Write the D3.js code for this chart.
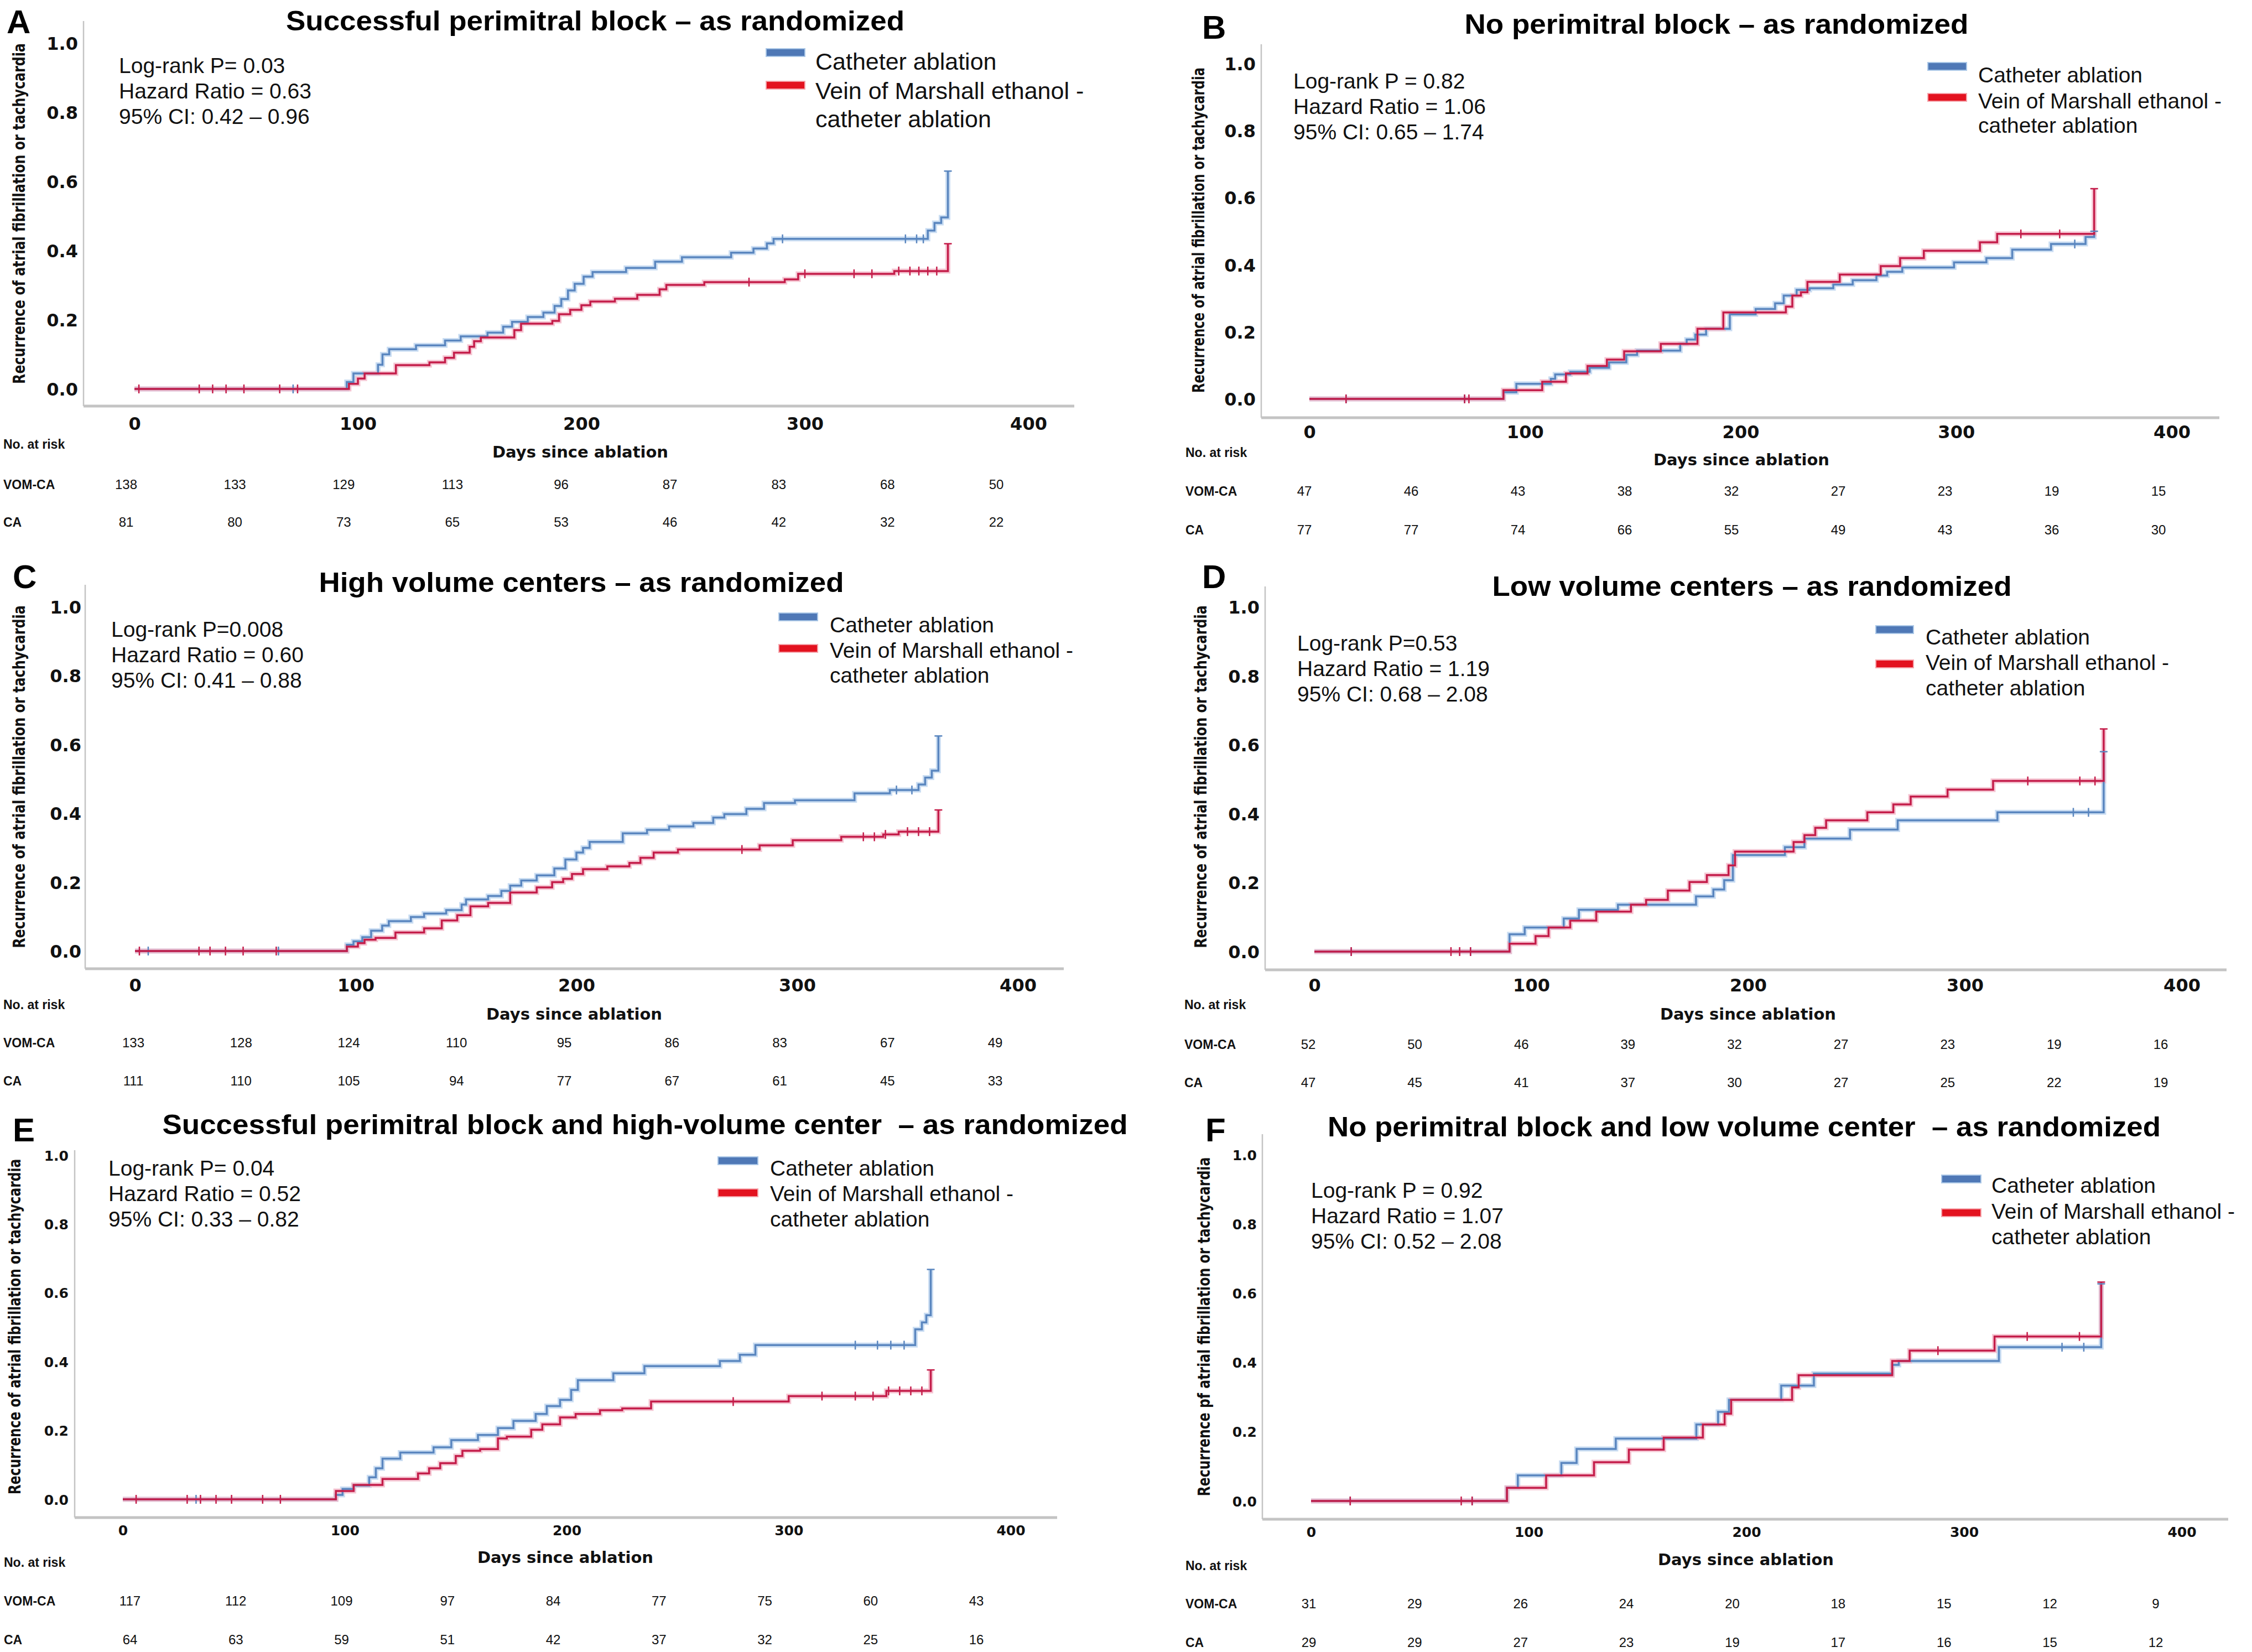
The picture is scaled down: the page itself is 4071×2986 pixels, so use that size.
<!DOCTYPE html>
<html><head><meta charset="utf-8">
<script src="https://cdn.jsdelivr.net/npm/d3@7"></script>
<style>body{margin:0;background:#fff}svg{display:block}</style>
</head><body>
<svg id="chart" width="4071" height="2986"></svg>
<script>
// ---------------- DATA ----------------
const xTickValues = [0, 100, 200, 300, 400];
const yTickValues = [0, 0.2, 0.4, 0.6, 0.8, 1.0];
const legendLabels = ["Catheter ablation", "Vein of Marshall ethanol -", "catheter ablation"];
const riskRowLabels = ["VOM-CA", "CA"];
const panelLetters = ["A", "B", "C", "D", "E", "F"];
const panelTitles = [
  "Successful perimitral block \u2013 as randomized",
  "No perimitral block \u2013 as randomized",
  "High volume centers \u2013 as randomized",
  "Low volume centers \u2013 as randomized",
  "Successful perimitral block and high-volume center  \u2013 as randomized",
  "No perimitral block and low volume center  \u2013 as randomized"
];
const yAxisLabels = [
  "Recurrence of atrial fibrillation or tachycardia",
  "Recurrence of atrial fibrillation or tachycardia",
  "Recurrence of atrial fibrillation or tachycardia",
  "Recurrence of atrial fibrillation or tachycardia",
  "Recurrence of atrial fibrillation or tachycardia",
  "Recurrence pf atrial fibrillation or tachycardia"
];
const xAxisTitle = "Days since ablation";
const riskTitle = "No. at risk";

const statsA = ["Log-rank P= 0.03", "Hazard Ratio = 0.63", "95% CI: 0.42 \u2013 0.96"];
const statsB = ["Log-rank P = 0.82", "Hazard Ratio = 1.06", "95% CI: 0.65 \u2013 1.74"];
const statsC = ["Log-rank P=0.008", "Hazard Ratio = 0.60", "95% CI: 0.41 \u2013 0.88"];
const statsD = ["Log-rank P=0.53", "Hazard Ratio = 1.19", "95% CI: 0.68 \u2013 2.08"];
const statsE = ["Log-rank P= 0.04", "Hazard Ratio = 0.52", "95% CI: 0.33 \u2013 0.82"];
const statsF = ["Log-rank P = 0.92", "Hazard Ratio = 1.07", "95% CI: 0.52 \u2013 2.08"];

// number at risk
const riskA_VOM = [138, 133, 129, 113, 96, 87, 83, 68, 50];
const riskA_CA  = [81, 80, 73, 65, 53, 46, 42, 32, 22];
const riskB_VOM = [47, 46, 43, 38, 32, 27, 23, 19, 15];
const riskB_CA  = [77, 77, 74, 66, 55, 49, 43, 36, 30];
const riskC_VOM = [133, 128, 124, 110, 95, 86, 83, 67, 49];
const riskC_CA  = [111, 110, 105, 94, 77, 67, 61, 45, 33];
const riskD_VOM = [52, 50, 46, 39, 32, 27, 23, 19, 16];
const riskD_CA  = [47, 45, 41, 37, 30, 27, 25, 22, 19];
const riskE_VOM = [117, 112, 109, 97, 84, 77, 75, 60, 43];
const riskE_CA  = [64, 63, 59, 51, 42, 37, 32, 25, 16];
const riskF_VOM = [31, 29, 26, 24, 20, 18, 15, 12, 9];
const riskF_CA  = [29, 29, 27, 23, 19, 17, 16, 15, 12];

// cumulative incidence step curves: [day, value from that day on]
const curveA_CA = [[0,0],[95,0.02],[98,0.045],[109,0.07],[111,0.1],[114,0.115],[126,0.126],[139,0.14],[146,0.152],[158,0.163],[165,0.18],[169,0.194],[176,0.208],[183,0.221],[188,0.24],[191,0.26],[194,0.285],[197,0.304],[201,0.325],[205,0.338],[220,0.35],[233,0.368],[245,0.381],[267,0.394],[277,0.406],[283,0.421],[286,0.434],[355,0.458],[358,0.48],[361,0.496],[364,0.63]];
const curveA_VOM = [[0,0],[96,0.015],[100,0.03],[103,0.045],[117,0.069],[132,0.077],[139,0.09],[143,0.105],[150,0.122],[152,0.138],[155,0.149],[170,0.17],[173,0.189],[187,0.197],[190,0.216],[195,0.229],[200,0.242],[204,0.253],[215,0.261],[225,0.272],[235,0.288],[238,0.301],[255,0.309],[291,0.317],[297,0.333],[340,0.341],[364,0.42]];
const curveB_CA = [[0,0],[90,0.02],[96,0.045],[112,0.06],[114,0.073],[121,0.081],[130,0.093],[139,0.109],[147,0.131],[152,0.144],[172,0.164],[175,0.177],[179,0.192],[184,0.209],[195,0.252],[207,0.268],[216,0.285],[220,0.308],[226,0.325],[232,0.33],[243,0.341],[252,0.354],[263,0.368],[268,0.379],[275,0.392],[299,0.407],[314,0.42],[326,0.445],[344,0.462],[360,0.483],[364,0.5]];
const curveB_VOM = [[0,0],[90,0.026],[108,0.051],[119,0.076],[129,0.098],[138,0.117],[146,0.142],[163,0.164],[180,0.209],[192,0.258],[221,0.275],[224,0.308],[228,0.318],[231,0.349],[246,0.371],[265,0.396],[274,0.42],[285,0.442],[311,0.467],[319,0.492],[364,0.627]];
const curveC_CA = [[0,0],[96,0.018],[99,0.028],[103,0.04],[107,0.059],[112,0.074],[115,0.087],[125,0.099],[131,0.109],[141,0.119],[148,0.135],[150,0.15],[160,0.16],[166,0.175],[170,0.19],[175,0.205],[182,0.22],[190,0.24],[195,0.266],[200,0.286],[203,0.3],[206,0.317],[221,0.342],[232,0.352],[242,0.362],[253,0.372],[262,0.388],[267,0.398],[277,0.413],[285,0.43],[299,0.438],[326,0.458],[342,0.468],[355,0.484],[358,0.504],[361,0.524],[364,0.625]];
const curveC_VOM = [[0,0],[96,0.013],[101,0.023],[104,0.033],[109,0.038],[118,0.054],[131,0.066],[139,0.089],[146,0.104],[152,0.13],[160,0.14],[170,0.17],[182,0.185],[189,0.2],[194,0.21],[198,0.224],[203,0.238],[214,0.246],[224,0.256],[229,0.271],[235,0.286],[246,0.295],[283,0.307],[298,0.322],[320,0.332],[339,0.339],[346,0.347],[364,0.41]];
const curveD_CA = [[0,0],[90,0.05],[97,0.07],[115,0.096],[122,0.121],[140,0.136],[176,0.16],[184,0.18],[189,0.207],[193,0.28],[217,0.303],[226,0.328],[247,0.354],[269,0.381],[315,0.404],[364,0.58]];
const curveD_VOM = [[0,0],[90,0.023],[102,0.045],[108,0.07],[118,0.09],[130,0.116],[146,0.136],[153,0.15],[163,0.177],[173,0.202],[181,0.222],[191,0.25],[194,0.29],[221,0.318],[226,0.338],[231,0.359],[236,0.381],[255,0.404],[267,0.427],[275,0.45],[292,0.47],[313,0.495],[364,0.646]];
const curveE_CA = [[0,0],[96,0.013],[99,0.03],[104,0.04],[111,0.064],[114,0.09],[117,0.118],[125,0.136],[140,0.151],[148,0.172],[160,0.187],[169,0.207],[176,0.228],[186,0.248],[191,0.271],[197,0.289],[202,0.318],[205,0.346],[221,0.366],[235,0.387],[269,0.402],[278,0.42],[285,0.448],[357,0.494],[360,0.514],[362,0.535],[364,0.668]];
const curveE_VOM = [[0,0],[96,0.024],[104,0.042],[117,0.059],[133,0.075],[138,0.09],[143,0.105],[150,0.126],[153,0.141],[161,0.146],[169,0.177],[173,0.182],[184,0.202],[189,0.218],[197,0.238],[204,0.248],[215,0.259],[225,0.264],[238,0.284],[300,0.3],[344,0.315],[364,0.376]];
const curveF_CA = [[0,0],[90,0.038],[95,0.074],[115,0.11],[122,0.15],[140,0.18],[177,0.221],[187,0.257],[192,0.292],[216,0.333],[231,0.368],[267,0.393],[270,0.404],[316,0.444],[363,0.627]];
const curveF_VOM = [[0,0],[90,0.038],[108,0.074],[130,0.112],[146,0.148],[162,0.183],[180,0.221],[190,0.252],[193,0.292],[221,0.328],[224,0.363],[267,0.404],[275,0.434],[314,0.475],[363,0.632]];

// censored observation days
const censorA_CA = [71, 290, 345, 350, 353];
const censorA_VOM = [2, 29, 35, 41, 49, 65, 73, 275, 300, 322, 330, 342, 347, 351, 355, 359];
const censorB_CA = [17, 72, 355];
const censorB_VOM = [17, 72, 74, 330, 348];
const censorC_CA = [6, 65, 345, 352];
const censorC_VOM = [2, 29, 34, 41, 49, 64, 275, 330, 335, 340, 350, 355, 360];
const censorD_CA = [17, 72, 350, 357];
const censorD_VOM = [17, 63, 67, 72, 329, 353, 360];
const censorE_CA = [33, 330, 340, 346, 352];
const censorE_VOM = [6, 29, 35, 42, 49, 63, 71, 275, 315, 330, 338, 345, 350, 355, 360];
const censorF_CA = [18, 74, 345, 355];
const censorF_VOM = [18, 69, 74, 288, 329, 353];

// ---------------- LAYOUT (positions / sizes only) ----------------
const layouts = [
 {letter:[12,60], title:[1076,55,1118], xr:[243,1859], yr:[703,78], yAxisX:151, yAxisTop:38, xAxisY:734, xAxisR:1942, xTickY:777, yTickX:141, tickFs:32, statsX:215, statsY:132, legSw:[1385,1455], legSwY:[95,154], legTx:1474, legTy:[126,179,230], legFs:43, ylab:[34,386,616], rlabX:6, noRiskY:811, days:[1049,827], vomY:884, caY:952, cols:[228,1801]},
 {letter:[2173,70], title:[3103,61,911], xr:[2367,3926], yr:[721,115], yAxisX:2280, yAxisTop:80, xAxisY:755, xAxisR:4012, xTickY:792, yTickX:2270, tickFs:32, statsX:2338, statsY:160, legSw:[3485,3555], legSwY:[120,176], legTx:3576, legTy:[149,196,240], legFs:39, ylab:[2166,416,588], rlabX:2143, noRiskY:826, days:[3148,841], vomY:896, caY:966, cols:[2358,3902]},
 {letter:[23,1063], title:[1051,1070,949], xr:[244,1840], yr:[1719,1097], yAxisX:154, yAxisTop:1057, xAxisY:1751, xAxisR:1923, xTickY:1792, yTickX:147, tickFs:32, statsX:201, statsY:1151, legSw:[1408,1478], legSwY:[1115,1172], legTx:1500, legTy:[1143,1189,1234], legFs:39, ylab:[34,1404,620], rlabX:6, noRiskY:1824, days:[1038,1843], vomY:1893, caY:1962, cols:[241,1799]},
 {letter:[2173,1063], title:[3167,1077,939], xr:[2376,3944], yr:[1720,1097], yAxisX:2287, yAxisTop:1060, xAxisY:1753, xAxisR:4025, xTickY:1792, yTickX:2277, tickFs:32, statsX:2345, statsY:1176, legSw:[3391,3459], legSwY:[1138,1200], legTx:3481, legTy:[1165,1211,1257], legFs:39, ylab:[2170,1404,620], rlabX:2141, noRiskY:1824, days:[3160,1843], vomY:1896, caY:1965, cols:[2365,3906]},
 {letter:[23,2063], title:[1166,2050,1745], xr:[222,1827], yr:[2710,2088], yAxisX:135, yAxisTop:2079, xAxisY:2743, xAxisR:1911, xTickY:2775, yTickX:124, tickFs:25, statsX:196, statsY:2125, legSw:[1298,1370], legSwY:[2098,2156], legTx:1392, legTy:[2125,2171,2217], legFs:39, ylab:[26,2398,607], rlabX:7, noRiskY:2832, days:[1022,2825], vomY:2902, caY:2972, cols:[235,1765]},
 {letter:[2179,2063], title:[3153,2054,1506], xr:[2370,3944], yr:[2713,2087], yAxisX:2282, yAxisTop:2050, xAxisY:2746, xAxisR:4028, xTickY:2778, yTickX:2272, tickFs:25, statsX:2370, statsY:2165, legSw:[3510,3581], legSwY:[2131,2192], legTx:3600, legTy:[2156,2203,2249], legFs:39, ylab:[2176,2398,613], rlabX:2143, noRiskY:2838, days:[3156,2829], vomY:2907, caY:2977, cols:[2366,3897]}
];

const panels = [
 {stats:statsA, ca:curveA_CA, vom:curveA_VOM, cCA:censorA_CA, cVOM:censorA_VOM, rV:riskA_VOM, rC:riskA_CA},
 {stats:statsB, ca:curveB_CA, vom:curveB_VOM, cCA:censorB_CA, cVOM:censorB_VOM, rV:riskB_VOM, rC:riskB_CA},
 {stats:statsC, ca:curveC_CA, vom:curveC_VOM, cCA:censorC_CA, cVOM:censorC_VOM, rV:riskC_VOM, rC:riskC_CA},
 {stats:statsD, ca:curveD_CA, vom:curveD_VOM, cCA:censorD_CA, cVOM:censorD_VOM, rV:riskD_VOM, rC:riskD_CA},
 {stats:statsE, ca:curveE_CA, vom:curveE_VOM, cCA:censorE_CA, cVOM:censorE_VOM, rV:riskE_VOM, rC:riskE_CA},
 {stats:statsF, ca:curveF_CA, vom:curveF_VOM, cCA:censorF_CA, cVOM:censorF_VOM, rV:riskF_VOM, rC:riskF_CA}
];

// ---------------- STYLE ----------------
const SANS = "'Liberation Sans', Arial, sans-serif";
const BOLDSANS = "'DejaVu Sans', Verdana, sans-serif";
const col = {
  caCore: "#5a86bf", caHalo: "#b8d2ee",
  vomCore: "#c41d4a", vomHalo: "#f2b3c4",
  caSwatch: "#4f78b6", vomSwatch: "#e3121f", vomSwatchEdge: "#f5a3aa",
  axis: "#c4c4c4", text: "#111"
};

const svg = d3.select("#chart");
svg.append("rect").attr("width", 4071).attr("height", 2986).attr("fill", "#fff");

function valueAt(data, day) {
  let v = data[0][1];
  for (const d of data) { if (d[0] <= day) v = d[1]; }
  return v;
}

panels.forEach((P, i) => {
  const L = layouts[i];
  const g = svg.append("g");
  const x = d3.scaleLinear().domain([0, 400]).range(L.xr);
  const y = d3.scaleLinear().domain([0, 1]).range(L.yr);

  // axes lines
  g.append("line").attr("x1", L.yAxisX).attr("x2", L.yAxisX).attr("y1", L.yAxisTop).attr("y2", L.xAxisY)
    .attr("stroke", col.axis).attr("stroke-width", 2.5);
  g.append("line").attr("x1", L.yAxisX).attr("x2", L.xAxisR).attr("y1", L.xAxisY).attr("y2", L.xAxisY)
    .attr("stroke", col.axis).attr("stroke-width", 5);

  // x axis tick labels
  const gx = g.append("g").attr("transform", `translate(0,${L.xTickY})`)
    .call(d3.axisBottom(x).tickValues(xTickValues).tickSize(0).tickPadding(0).tickFormat(d3.format("d")));
  gx.select(".domain").remove();
  gx.selectAll("text").attr("y", 0).attr("dy", 0)
    .style("font-family", BOLDSANS).style("font-weight", "bold").style("font-size", L.tickFs + "px").attr("fill", col.text);

  // y axis tick labels
  const gy = g.append("g").attr("transform", `translate(${L.yTickX},0)`)
    .call(d3.axisLeft(y).tickValues(yTickValues).tickSize(0).tickPadding(0).tickFormat(d3.format(".1f")));
  gy.select(".domain").remove();
  gy.selectAll("text").attr("x", 0).attr("dy", "0.36em")
    .style("font-family", BOLDSANS).style("font-weight", "bold").style("font-size", L.tickFs + "px").attr("fill", col.text);

  // y axis label (condensed by horizontal scaling to the measured length)
  const yl = g.append("text")
    .attr("text-anchor", "middle").attr("dominant-baseline", "central")
    .style("font-family", BOLDSANS).style("font-weight", "bold").style("font-size", "31px")
    .attr("fill", col.text).text(yAxisLabels[i]);
  const natural = yl.node().getComputedTextLength();
  yl.attr("transform", `translate(${L.ylab[0]},${L.ylab[1]}) rotate(-90) scale(${L.ylab[2] / natural},1)`);

  // panel letter & title
  g.append("text").attr("x", L.letter[0]).attr("y", L.letter[1])
    .style("font-family", SANS).style("font-weight", "bold").style("font-size", "60px").attr("fill", "#000")
    .text(panelLetters[i]);
  g.append("text").attr("x", L.title[0]).attr("y", L.title[1]).attr("text-anchor", "middle")
    .attr("textLength", L.title[2]).attr("lengthAdjust", "spacingAndGlyphs")
    .style("white-space", "pre")
    .style("font-family", SANS).style("font-weight", "bold").style("font-size", "50px").attr("fill", "#000")
    .text(panelTitles[i]);

  // stats
  g.append("g").selectAll("text").data(P.stats).join("text")
    .attr("x", L.statsX).attr("y", (d, k) => L.statsY + k * 46)
    .style("font-family", SANS).style("font-size", "39px").attr("fill", col.text).text(d => d);

  // legend
  const sw = L.legSw;
  g.append("rect").attr("x", sw[0]).attr("y", L.legSwY[0] - 7).attr("width", sw[1] - sw[0]).attr("height", 14)
    .attr("fill", col.caSwatch).attr("stroke", "#a9c6e6").attr("stroke-width", 2);
  g.append("rect").attr("x", sw[0]).attr("y", L.legSwY[1] - 7).attr("width", sw[1] - sw[0]).attr("height", 14)
    .attr("fill", col.vomSwatch).attr("stroke", col.vomSwatchEdge).attr("stroke-width", 2);
  g.append("g").selectAll("text").data(legendLabels).join("text")
    .attr("x", L.legTx).attr("y", (d, k) => L.legTy[k])
    .style("font-family", SANS).style("font-size", L.legFs + "px").attr("fill", col.text).text(d => d);

  // curves
  const line = d3.line().x(d => x(d[0])).y(d => y(d[1])).curve(d3.curveStepAfter);
  const series = [
    {data: P.ca, cens: P.cCA, core: col.caCore, halo: col.caHalo},
    {data: P.vom, cens: P.cVOM, core: col.vomCore, halo: col.vomHalo}
  ];
  series.forEach(s => {
    g.append("path").datum(s.data).attr("d", line).attr("fill", "none")
      .attr("stroke", s.halo).attr("stroke-width", 9).attr("stroke-opacity", 0.75).attr("stroke-linejoin", "miter");
  });
  series.forEach(s => {
    g.append("path").datum(s.data).attr("d", line).attr("fill", "none")
      .attr("stroke", s.core).attr("stroke-width", 3.5).attr("stroke-linejoin", "miter");
    g.append("g").selectAll("line").data(s.cens).join("line")
      .attr("x1", d => x(d)).attr("x2", d => x(d))
      .attr("y1", d => y(valueAt(s.data, d)) - 8).attr("y2", d => y(valueAt(s.data, d)) + 8)
      .attr("stroke", s.core).attr("stroke-width", 2.5);
  });
  // end markers (small cross at the final point)
  series.forEach(s => {
    const last = s.data[s.data.length - 1];
    g.append("line").attr("x1", x(last[0]) - 7).attr("x2", x(last[0]) + 7)
      .attr("y1", y(last[1])).attr("y2", y(last[1])).attr("stroke", s.core).attr("stroke-width", 2.5);
  });

  // number at risk table
  const cx = d3.scaleLinear().domain([0, 8]).range(L.cols);
  g.append("text").attr("x", L.rlabX).attr("y", L.noRiskY)
    .style("font-family", SANS).style("font-weight", "bold").style("font-size", "23px").attr("fill", col.text).text(riskTitle);
  g.append("text").attr("x", L.days[0]).attr("y", L.days[1]).attr("text-anchor", "middle")
    .style("font-family", BOLDSANS).style("font-weight", "bold").style("font-size", "29px").attr("fill", col.text).text(xAxisTitle);
  [[P.rV, L.vomY, riskRowLabels[0]], [P.rC, L.caY, riskRowLabels[1]]].forEach(([vals, yy, lab]) => {
    g.append("text").attr("x", L.rlabX).attr("y", yy)
      .style("font-family", SANS).style("font-weight", "bold").style("font-size", "23px").attr("fill", col.text).text(lab);
    g.append("g").selectAll("text").data(vals).join("text")
      .attr("x", (d, k) => cx(k)).attr("y", yy).attr("text-anchor", "middle")
      .style("font-family", SANS).style("font-size", "24px").attr("fill", col.text).text(d => d);
  });
});
</script>
</body></html>
